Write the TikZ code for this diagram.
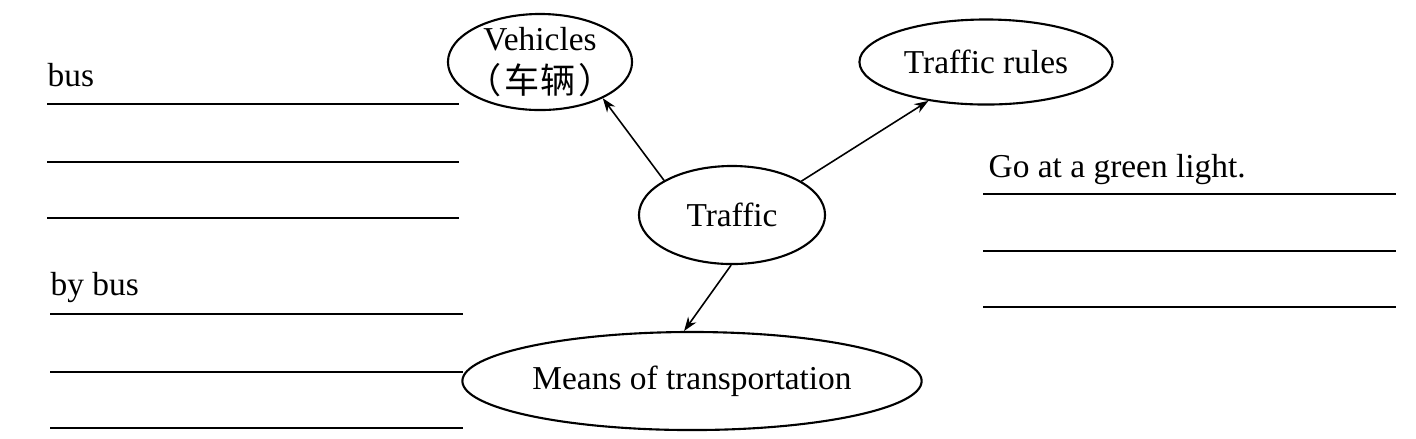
\documentclass[tikz,border=0pt]{standalone}
\usepackage{fontspec}
\setmainfont{Liberation Serif}
\newfontfamily\cjk{Noto Sans CJK SC}
\usetikzlibrary{shapes.geometric,arrows.meta}
\tikzset{
  bubble/.style={ellipse,draw,line width=0.6pt,inner sep=0pt,align=center,
    font=\fontsize{9.5}{11}\selectfont},
  blank/.style={line width=0.6pt},
  fl/.style={-{Stealth[length=1.4mm,width=1mm]},line width=0.45pt},
  lbl/.style={anchor=base west,inner sep=0pt,font=\fontsize{9.5}{11}\selectfont},
}

\begin{document}
\begin{tikzpicture}[x=0.01cm,y=-0.01cm]
  \useasboundingbox (0,0) rectangle (1416,438);
  % mind map
  \node[bubble,minimum width=1.84cm,minimum height=0.96cm,inner xsep=-4pt,inner ysep=-3pt] (veh) at (540,62)
    {Vehicles\\[1pt]{\cjk\fontsize{10}{11}\selectfont （\kern1pt 车辆\kern1pt ）}};
  \node[bubble,minimum width=2.53cm,minimum height=0.85cm] (rules) at (986,62) {Traffic rules};
  \node[bubble,minimum width=1.86cm,minimum height=0.98cm] (traffic) at (732,215) {Traffic};
  \node[bubble,minimum width=4.59cm,minimum height=0.98cm] (means) at (692,381) {Means of transportation};
  \draw[fl] (traffic.153) -- (veh.-30);
  \draw[fl] (traffic.26) -- (rules.-146);
  \draw[fl] (traffic.-91) -- (means.99);
  % answer lines
  \node[lbl] (bus) at (47,86) {bus};
  \node[lbl] (bybus) at (50,295) {by bus};
  \node[lbl] (green) at (988,177) {Go at a green light.};
  \foreach \y in {104,162,218} \draw[blank] (47,\y) -- (459,\y);
  \foreach \y in {314,372,428} \draw[blank] (50,\y) -- (463,\y);
  \foreach \y in {194,251,307} \draw[blank] (983,\y) -- (1396,\y);
\end{tikzpicture}
\end{document}
